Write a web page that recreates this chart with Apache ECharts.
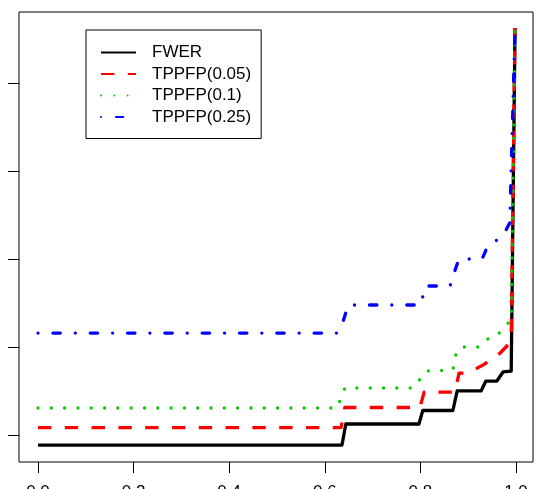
<!DOCTYPE html>
<html>

	<head>
		<meta charset="utf-8">
		<script type="text/javascript" src="https://cdn.jsdelivr.net/npm/echarts@6/dist/echarts.min.js"></script>
	</head>

	<body style="margin:0">

		<div id="main" style="width:540px;height:489px"></div>

		<script type="text/javascript">
			// x tick labels
			var xTicks = [0, 0.2, 0.4, 0.6, 0.8, 1.0];
			var yTicks = [1, 2, 3, 4, 5];
			var names = ['FWER', 'TPPFP(0.05)', 'TPPFP(0.1)', 'TPPFP(0.25)'];

			// FWER
			var fwerX = [0, 0.636, 0.644, 0.797, 0.805, 0.868, 0.877, 0.927, 0.937, 0.960, 0.973, 0.990, 0.998];
			var fwerY = [0.886, 0.886, 1.125, 1.125, 1.279, 1.279, 1.501, 1.501, 1.614, 1.614, 1.717, 1.728, 5.630];
			// TPPFP(0.05)
			var t05X = [0, 0.634, 0.642, 0.799, 0.808, 0.872, 0.881, 0.900, 0.931, 0.967, 0.983, 0.990, 0.998];
			var t05Y = [1.085, 1.085, 1.313, 1.313, 1.489, 1.489, 1.705, 1.705, 1.796, 1.933, 2.024, 2.138, 5.630];
			// TPPFP(0.1)
			var t10X = [0, 0.626, 0.642, 0.785, 0.801, 0.812, 0.868, 0.874, 0.883, 0.921, 0.935, 0.960, 0.977, 0.990, 0.998];
			var t10Y = [1.307, 1.307, 1.535, 1.535, 1.648, 1.728, 1.739, 1.910, 2.001, 2.001, 2.081, 2.126, 2.240, 2.308, 5.630];
			// TPPFP(0.25)
			var t25X = [0, 0.626, 0.638, 0.649, 0.801, 0.810, 0.862, 0.874, 0.881, 0.929, 0.941, 0.967, 0.977, 0.987, 0.998];
			var t25Y = [2.160, 2.160, 2.286, 2.479, 2.479, 2.695, 2.695, 2.900, 3.002, 3.002, 3.150, 3.241, 3.309, 3.412, 5.630];

			function pairs(xs, ys) {
				var out = [];
				for (var i = 0; i < xs.length; i++) out.push([xs[i], ys[i]]);
				return out;
			}

			var lw = 3.3;
			function mkSeries(name, xs, ys, color, dash, cap) {
				return {
					name: name,
					type: 'line',
					data: pairs(xs, ys),
					symbol: 'none',
					showSymbol: false,
					animation: false,
					lineStyle: {color: color, width: lw, type: dash, cap: cap || 'butt', join: 'round'},
					itemStyle: {color: color}
				};
			}

			var myChart = echarts.init(document.getElementById('main'));
			var option = {
				animation: false,
				grid: {
					left: 19, right: 7, top: 12, bottom: 27,
					outerBoundsMode: 'none',
					containLabel: false,
					show: true, borderColor: '#000', borderWidth: 1
				},
				legend: {
					orient: 'vertical',
					left: 86, top: 30,
					padding: [14, 10, 13, 14],
					backgroundColor: '#fff',
					borderColor: '#000',
					borderWidth: 1,
					itemWidth: 35,
					itemHeight: 14,
					itemGap: 4.5,
					// hide the circle drawn in the middle of each line icon
					itemStyle: {opacity: 0},
					textStyle: {fontFamily: 'Liberation Sans', fontSize: 17, lineHeight: 17, color: '#000', padding: [0, 0, 0, 11]},
					data: names
				},
				xAxis: {
					type: 'value',
					min: -0.0397,
					max: 1.0356,
					axisLine: {show: false, onZero: false},
					splitLine: {show: false},
					axisTick: {show: true, length: 11, lineStyle: {color: '#000'}, customValues: xTicks},
					axisLabel: {
						customValues: xTicks, margin: 22,
						fontFamily: 'Liberation Sans', fontSize: 17, color: '#000',
						formatter: function(v) { return v.toFixed(1); }
					}
				},
				yAxis: {
					type: 'value',
					min: 0.693,
					max: 5.812,
					axisLine: {show: false, onZero: false},
					splitLine: {show: false},
					axisTick: {show: true, length: 11, lineStyle: {color: '#000'}, customValues: yTicks},
					axisLabel: {show: false}
				},
				series: [
					mkSeries(names[0], fwerX, fwerY, '#000000', 'solid'),
					mkSeries(names[1], t05X, t05Y, '#FF0000', [13.4, 13.4]),
					mkSeries(names[2], t10X, t10Y, '#00CD00', [0.01, 13.3], 'round'),
					mkSeries(names[3], t25X, t25Y, '#0000FF', [0.01, 14.95, 7.4, 14.95], 'round')
				]
			};
			myChart.setOption(option);
		</script>

	</body>

</html>
